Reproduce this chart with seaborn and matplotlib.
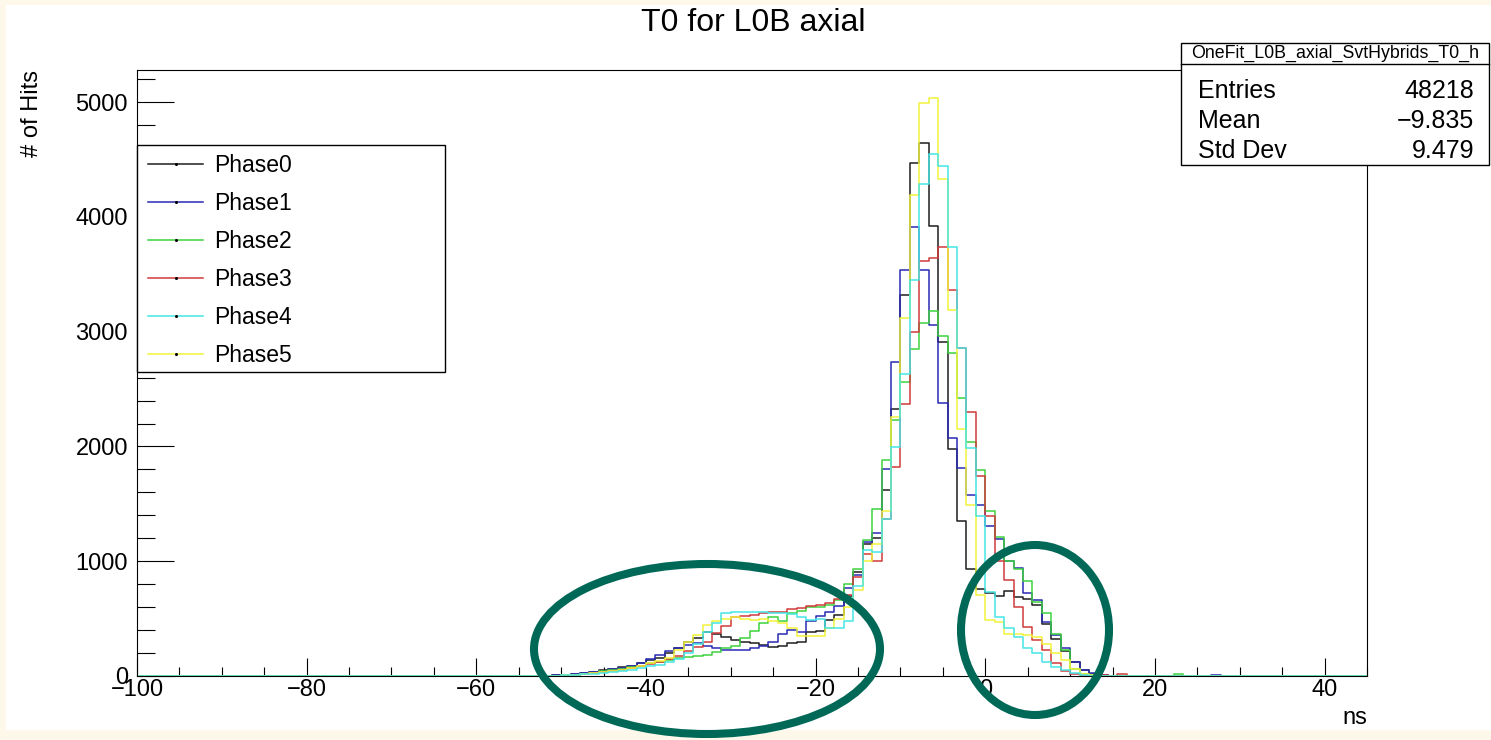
import numpy as np
import pandas as pd
import matplotlib
matplotlib.use("Agg")
import matplotlib.pyplot as plt
import seaborn as sns
from matplotlib.patches import Rectangle, Ellipse
from matplotlib.lines import Line2D
from matplotlib.ticker import MultipleLocator

# ---------------- data ----------------
TITLE = "T0 for L0B axial"
X_LABEL = "ns"
Y_LABEL = "# of Hits"
PHASES = ["Phase0", "Phase1", "Phase2", "Phase3", "Phase4", "Phase5"]
COLORS = ["#1e1e1e", "#2a2ab4", "#3cd23c", "#d03a3a", "#45e6e6", "#f2f23a"]

BIN_LO = -100.0
BIN_HI = 50.0
N_BINS = 135
FIRST_BIN = 44          # bin index of the first entry of each count list

phase0 = [5, 10, 15, 25, 35, 50, 60, 75, 90, 110,
          140, 155, 200, 245, 300, 330, 380, 370, 340, 310,
          300, 290, 270, 255, 260, 290, 300, 380, 390, 490,
          530, 700, 910, 1150, 1200, 1617, 2328, 3319, 4472, 4641,
          3922, 2907, 1980, 1351, 936, 762, 720, 700, 740, 690,
          670, 620, 450, 320, 220, 120, 50, 20, 8, 3, 0,
          0, 0, 0, 0, 0, 0, 0, 0, 0, 0, 0]
phase1 = [5, 10, 15, 25, 35, 45, 60, 70, 90, 110,
          150, 180, 220, 240, 270, 285, 260, 245, 230, 225,
          230, 240, 260, 300, 370, 400, 380, 480, 520, 560,
          610, 770, 880, 1168, 1250, 1806, 2739, 3539, 3916, 3539,
          3061, 2377, 2075, 1812, 1574, 1487, 1310, 1197, 1000, 940,
          720, 665, 470, 356, 240, 124, 52, 25, 8, 3, 0,
          0, 0, 0, 0, 0, 0, 0, 0, 0, 10, 0]
phase2 = [3, 8, 12, 20, 30, 40, 50, 60, 75, 90,
          110, 125, 140, 155, 165, 170, 180, 210, 240, 260,
          330, 390, 460, 515, 480, 545, 570, 600, 605, 620,
          660, 800, 936, 1183, 1458, 1884, 2232, 2565, 2849, 3075,
          3183, 2966, 2810, 2420, 2040, 1791, 1435, 1211, 1000, 930,
          830, 645, 545, 370, 225, 60, 20, 5, 0, 0, 0,
          0, 0, 0, 0, 0, 15, 0, 0, 0, 0, 0]
phase3 = [3, 6, 10, 15, 25, 35, 45, 55, 70, 85,
          105, 125, 150, 175, 215, 250, 300, 371, 440, 516,
          520, 530, 545, 560, 560, 580, 590, 610, 620, 640,
          675, 704, 863, 1060, 1000, 1371, 1820, 2371, 2994, 3617,
          3638, 3742, 3365, 2855, 2299, 1742, 1394, 1000, 834, 600,
          430, 310, 225, 110, 40, 15, 5, 0, 8, 3, 15,
          0, 0, 0, 0, 0, 0, 0, 0, 0, 0, 0]
phase4 = [3, 6, 10, 15, 20, 25, 35, 45, 55, 70,
          85, 100, 120, 150, 200, 280, 380, 460, 545, 560,
          560, 555, 560, 550, 545, 540, 510, 490, 500, 415,
          420, 480, 782, 1095, 1081, 1371, 1994, 2632, 3452, 4284,
          4551, 4443, 3742, 2860, 1990, 1391, 733, 515, 420, 342,
          240, 197, 124, 80, 52, 25, 10, 3, 0, 0, 0,
          0, 0, 0, 0, 0, 0, 0, 0, 0, 0, 0]
phase5 = [3, 6, 10, 15, 25, 35, 45, 55, 70, 85,
          110, 130, 160, 230, 300, 357, 444, 480, 500, 515,
          495, 490, 500, 480, 460, 420, 345, 345, 350, 420,
          500, 600, 750, 1000, 1150, 1440, 2255, 3119, 4188, 4994,
          5038, 4328, 3191, 2154, 1487, 704, 486, 472, 370, 370,
          356, 340, 280, 200, 138, 60, 20, 5, 0, 0, 0,
          0, 0, 0, 0, 0, 0, 0, 0, 0, 0, 0]
COUNTS = [phase0, phase1, phase2, phase3, phase4, phase5]
DRAW_ORDER = [0, 1, 2, 3, 5, 4]

STAT_NAME = "OneFit_L0B_axial_SvtHybrids_T0_h"
STAT_LABELS = ["Entries", "Mean", "Std Dev"]
STAT_VALUES = ["48218", "\u22129.835", "9.479"]

X_MIN, X_MAX = -100, 45
Y_MIN, Y_MAX = 0, 5280

# ---------------- build table ----------------
edges = np.linspace(BIN_LO, BIN_HI, N_BINS + 1)
centers = 0.5 * (edges[:-1] + edges[1:])
frames = []
for name, cnt in zip(PHASES, COUNTS):
    full = np.zeros(N_BINS)
    full[FIRST_BIN:FIRST_BIN + len(cnt)] = cnt
    frames.append(pd.DataFrame({"t": centers, "n": full, "phase": name}))
df = pd.concat(frames, ignore_index=True)

# ---------------- figure ----------------
plt.rcParams["font.family"] = ["Liberation Sans", "DejaVu Sans"]
W, H = 1491, 740
fig = plt.figure(figsize=(W / 100, H / 100), dpi=100)
fig.patch.set_facecolor("#fdf8ea")
fig.add_artist(Rectangle((6 / W, 10 / H), (W - 6) / W, 725 / H,
                         transform=fig.transFigure, facecolor="white",
                         edgecolor="none", zorder=-5))

ax = fig.add_axes([137 / W, 1 - 676 / H, (1367 - 137) / W, (676 - 70) / H])
ax.set_facecolor("white")

bin_list = edges.tolist()
for i in DRAW_ORDER:
    sns.histplot(data=df[df["phase"] == PHASES[i]], x="t", weights="n",
                 bins=bin_list, element="step", fill=False, color=COLORS[i],
                 linewidth=1.1, ax=ax)

ax.set_xlim(X_MIN, X_MAX)
ax.set_ylim(Y_MIN, Y_MAX)
for s in ax.spines.values():
    s.set_visible(True)
    s.set_color("black")
    s.set_linewidth(0.8)

ax.xaxis.set_major_locator(MultipleLocator(20))
ax.xaxis.set_minor_locator(MultipleLocator(5))
ax.yaxis.set_major_locator(MultipleLocator(1000))
ax.yaxis.set_minor_locator(MultipleLocator(200))
ax.tick_params(axis="x", which="both", direction="in", top=False, bottom=True,
               labelsize=17, pad=2, width=0.8, colors="black")
ax.tick_params(axis="x", which="major", length=13)
ax.tick_params(axis="x", which="minor", length=6.5)
ax.tick_params(axis="y", which="both", direction="in", left=True, right=False,
               labelsize=17, pad=6.5, width=0.8, colors="black")
ax.tick_params(axis="y", which="major", length=26.6)
ax.tick_params(axis="y", which="minor", length=13)

ax.set_xlabel(X_LABEL, fontsize=17, ha="right", va="baseline")
ax.xaxis.set_label_coords(1.0, (676 - 724) / 606)
ax.set_ylabel(Y_LABEL, fontsize=17, ha="right", va="baseline")
ax.yaxis.set_label_coords((38 - 137) / 1230, 1.0)

fig.text(753 / W, 1 - 31 / H, TITLE, ha="center", va="baseline", fontsize=23)

# ---------------- overlay (legend, stats box, annotations) ----------------
ov = fig.add_axes([0, 0, 1, 1], zorder=10)
ov.set_xlim(0, W)
ov.set_ylim(H, 0)
ov.axis("off")
ov.patch.set_alpha(0)

# legend box
ov.add_patch(Rectangle((137, 145), 445 - 137, 372 - 145, facecolor="white",
                       edgecolor="black", linewidth=1.0))
for j, (name, col) in enumerate(zip(PHASES, COLORS)):
    yb = 171.5 + 38 * j
    yl = 164 + 38 * j
    ov.add_line(Line2D([148, 203], [yl, yl], color=col, linewidth=1.1))
    ov.plot([175.5], [yl], marker="o", markersize=1.2, color="black")
    ov.text(214, yb, name, fontsize=16.5, ha="left", va="baseline")

# stats box
ov.add_patch(Rectangle((1181, 43), 1489 - 1181, 165 - 43, facecolor="white",
                       edgecolor="black", linewidth=1.0))
ov.add_line(Line2D([1181, 1489], [63.5, 63.5], color="black", linewidth=1.0))
ov.text(1335, 53.5, STAT_NAME, fontsize=12.8, ha="center", va="center")
for j, (lab, val) in enumerate(zip(STAT_LABELS, STAT_VALUES)):
    yb = 98.5 + 30 * j
    ov.text(1198, yb, lab, fontsize=18, ha="left", va="baseline")
    ov.text(1474, yb, val, fontsize=18, ha="right", va="baseline")

# hand-drawn highlight ellipses
ov.add_patch(Ellipse((707, 649), 346, 170, fill=False, edgecolor="#006857",
                     linewidth=5.8, clip_on=False))
ov.add_patch(Ellipse((1035, 630), 148, 170, fill=False, edgecolor="#006857",
                     linewidth=5.8, clip_on=False))

fig.savefig("out.png", dpi=100, facecolor=fig.get_facecolor())
